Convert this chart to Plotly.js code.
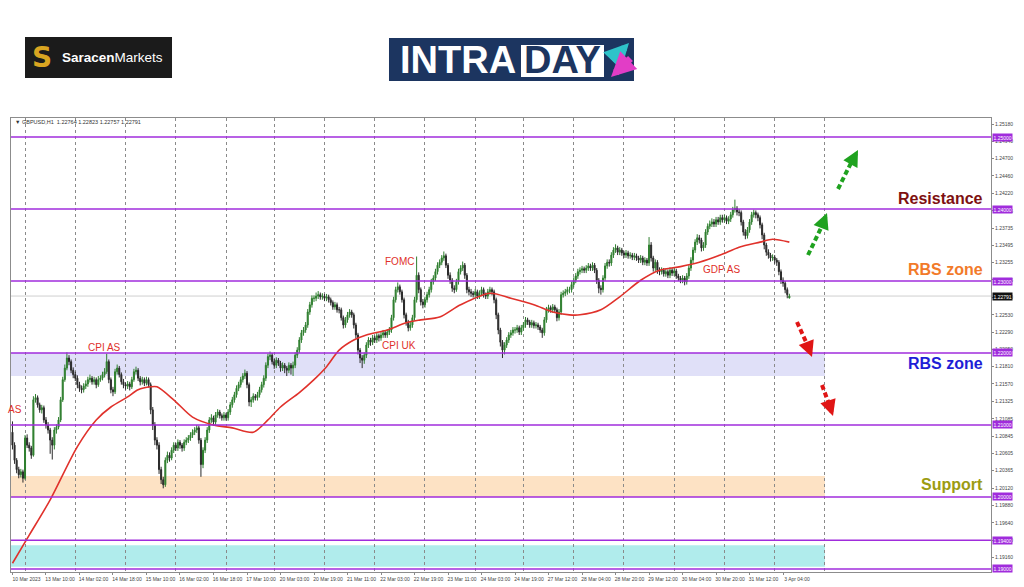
<!DOCTYPE html>
<html><head><meta charset="utf-8">
<script src="https://cdn.plot.ly/plotly-3.0.1.min.js"></script>
<style>html,body{margin:0;padding:0;background:#fff;} #chart{width:1024px;height:587px;}</style>
</head><body><div id="chart"></div>
<script>
// ---- GBPUSD H1 candles ----
const barOpen = [
1.2090,1.2072,1.2051,1.2038,1.2031,1.2035,1.2026,1.2082,1.2072,1.2068,
1.2058,1.2135,1.2138,1.2128,1.2121,1.2124,1.2107,1.2100,1.2093,1.2079,
1.2072,1.2093,1.2097,1.2107,1.2135,1.2163,1.2179,1.2193,1.2188,1.2176,
1.2170,1.2165,1.2156,1.2151,1.2149,1.2154,1.2157,1.2163,1.2165,1.2160,
1.2163,1.2156,1.2163,1.2165,1.2170,1.2174,1.2188,1.2163,1.2149,1.2146,
1.2174,1.2179,1.2170,1.2160,1.2156,1.2154,1.2157,1.2153,1.2163,1.2174,
1.2176,1.2165,1.2160,1.2163,1.2158,1.2163,1.2156,1.2121,1.2100,1.2079,
1.2072,1.2038,1.2024,1.2017,1.2051,1.2058,1.2054,1.2065,1.2072,1.2068,
1.2076,1.2072,1.2068,1.2076,1.2079,1.2082,1.2086,1.2090,1.2093,1.2096,
1.2079,1.2045,1.2065,1.2079,1.2093,1.2107,1.2110,1.2104,1.2114,1.2118,
1.2113,1.2110,1.2114,1.2110,1.2118,1.2128,1.2135,1.2142,1.2151,1.2156,
1.2163,1.2168,1.2172,1.2156,1.2132,1.2135,1.2140,1.2138,1.2142,1.2149,
1.2156,1.2165,1.2183,1.2195,1.2197,1.2188,1.2183,1.2190,1.2186,1.2179,
1.2183,1.2179,1.2176,1.2183,1.2179,1.2183,1.2197,1.2204,1.2218,1.2228,
1.2232,1.2239,1.2257,1.2267,1.2276,1.2276,1.2279,1.2281,1.2278,1.2279,
1.2276,1.2278,1.2274,1.2270,1.2264,1.2267,1.2260,1.2260,1.2249,1.2239,
1.2246,1.2253,1.2257,1.2253,1.2239,1.2225,1.2204,1.2193,1.2190,1.2197,
1.2211,1.2218,1.2215,1.2221,1.2218,1.2224,1.2221,1.2225,1.2228,1.2225,
1.2229,1.2232,1.2249,1.2274,1.2288,1.2292,1.2285,1.2274,1.2253,1.2243,
1.2235,1.2239,1.2249,1.2274,1.2308,1.2288,1.2271,1.2267,1.2274,1.2281,
1.2288,1.2299,1.2304,1.2313,1.2322,1.2326,1.2332,1.2335,1.2322,1.2308,
1.2301,1.2290,1.2288,1.2299,1.2313,1.2318,1.2322,1.2308,1.2288,1.2285,
1.2283,1.2281,1.2285,1.2279,1.2283,1.2288,1.2281,1.2279,1.2285,1.2288,
1.2285,1.2274,1.2253,1.2232,1.2215,1.2204,1.2211,1.2218,1.2225,1.2228,
1.2232,1.2232,1.2235,1.2229,1.2235,1.2239,1.2246,1.2243,1.2239,1.2242,
1.2238,1.2239,1.2236,1.2232,1.2228,1.2246,1.2260,1.2263,1.2260,1.2264,
1.2260,1.2249,1.2257,1.2281,1.2283,1.2285,1.2288,1.2288,1.2295,1.2301,
1.2307,1.2313,1.2315,1.2317,1.2315,1.2318,1.2321,1.2318,1.2322,1.2315,
1.2301,1.2290,1.2288,1.2304,1.2321,1.2326,1.2325,1.2336,1.2343,1.2346,
1.2340,1.2343,1.2339,1.2336,1.2339,1.2335,1.2336,1.2333,1.2335,1.2332,
1.2329,1.2332,1.2326,1.2329,1.2325,1.2350,1.2332,1.2318,1.2326,1.2315,
1.2313,1.2315,1.2310,1.2313,1.2308,1.2315,1.2311,1.2314,1.2307,1.2304,
1.2301,1.2304,1.2299,1.2307,1.2318,1.2329,1.2343,1.2354,1.2360,1.2357,
1.2346,1.2350,1.2368,1.2376,1.2379,1.2382,1.2379,1.2385,1.2382,1.2388,
1.2385,1.2388,1.2383,1.2386,1.2392,1.2399,1.2401,1.2396,1.2395,1.2382,
1.2368,1.2363,1.2371,1.2382,1.2392,1.2395,1.2392,1.2388,1.2378,1.2364,
1.2350,1.2340,1.2336,1.2332,1.2333,1.2329,1.2326,1.2313,1.2301,1.2297,
1.2288,1.22764];
const barHigh = [
1.2105,1.2076,1.2054,1.2042,1.2039,1.2038,1.2086,1.2087,1.2076,1.2071,
1.2140,1.2143,1.2141,1.2131,1.2128,1.2127,1.2111,1.2104,1.2096,1.2083,
1.2097,1.2101,1.2111,1.2139,1.2167,1.2184,1.2201,1.2197,1.2191,1.2180,
1.2174,1.2169,1.2160,1.2155,1.2158,1.2162,1.2167,1.2170,1.2168,1.2167,
1.2166,1.2168,1.2169,1.2174,1.2179,1.2199,1.2191,1.2166,1.2153,1.2178,
1.2184,1.2182,1.2173,1.2164,1.2159,1.2161,1.2160,1.2167,1.2178,1.2181,
1.2179,1.2168,1.2167,1.2166,1.2167,1.2166,1.2159,1.2125,1.2104,1.2083,
1.2076,1.2042,1.2028,1.2055,1.2063,1.2062,1.2069,1.2076,1.2075,1.2080,
1.2079,1.2075,1.2080,1.2083,1.2086,1.2090,1.2094,1.2097,1.2100,1.2099,
1.2082,1.2069,1.2083,1.2097,1.2111,1.2115,1.2113,1.2118,1.2122,1.2121,
1.2116,1.2118,1.2117,1.2122,1.2132,1.2139,1.2146,1.2155,1.2160,1.2167,
1.2172,1.2177,1.2175,1.2159,1.2139,1.2144,1.2143,1.2146,1.2153,1.2160,
1.2169,1.2187,1.2199,1.2202,1.2200,1.2192,1.2194,1.2193,1.2189,1.2187,
1.2186,1.2182,1.2187,1.2186,1.2188,1.2201,1.2208,1.2222,1.2232,1.2236,
1.2243,1.2261,1.2271,1.2280,1.2280,1.2284,1.2286,1.2284,1.2283,1.2282,
1.2282,1.2281,1.2277,1.2273,1.2271,1.2270,1.2264,1.2263,1.2252,1.2250,
1.2257,1.2261,1.2260,1.2256,1.2242,1.2228,1.2207,1.2197,1.2201,1.2215,
1.2222,1.2221,1.2225,1.2224,1.2228,1.2227,1.2229,1.2232,1.2231,1.2233,
1.2236,1.2253,1.2278,1.2292,1.2298,1.2295,1.2288,1.2277,1.2256,1.2246,
1.2243,1.2253,1.2278,1.2334,1.2312,1.2291,1.2275,1.2278,1.2285,1.2292,
1.2303,1.2308,1.2317,1.2326,1.2330,1.2336,1.2341,1.2338,1.2325,1.2312,
1.2304,1.2294,1.2303,1.2317,1.2322,1.2327,1.2325,1.2311,1.2292,1.2289,
1.2286,1.2289,1.2288,1.2287,1.2292,1.2291,1.2284,1.2289,1.2292,1.2291,
1.2288,1.2277,1.2256,1.2235,1.2218,1.2215,1.2222,1.2229,1.2232,1.2236,
1.2236,1.2239,1.2238,1.2239,1.2243,1.2250,1.2249,1.2246,1.2246,1.2245,
1.2243,1.2242,1.2239,1.2235,1.2250,1.2264,1.2267,1.2266,1.2268,1.2267,
1.2263,1.2261,1.2285,1.2287,1.2289,1.2292,1.2292,1.2299,1.2305,1.2311,
1.2317,1.2319,1.2321,1.2320,1.2322,1.2325,1.2324,1.2326,1.2325,1.2318,
1.2304,1.2294,1.2308,1.2325,1.2330,1.2330,1.2340,1.2347,1.2351,1.2349,
1.2347,1.2346,1.2342,1.2343,1.2342,1.2340,1.2339,1.2339,1.2338,1.2335,
1.2336,1.2335,1.2333,1.2332,1.2361,1.2354,1.2335,1.2330,1.2329,1.2319,
1.2319,1.2318,1.2317,1.2316,1.2319,1.2318,1.2318,1.2317,1.2310,1.2307,
1.2308,1.2307,1.2311,1.2322,1.2333,1.2347,1.2358,1.2365,1.2364,1.2360,
1.2354,1.2372,1.2380,1.2384,1.2387,1.2386,1.2389,1.2389,1.2392,1.2392,
1.2392,1.2391,1.2390,1.2396,1.2403,1.2413,1.2404,1.2400,1.2398,1.2385,
1.2372,1.2375,1.2386,1.2396,1.2399,1.2398,1.2395,1.2391,1.2381,1.2367,
1.2353,1.2344,1.2339,1.2337,1.2336,1.2332,1.2329,1.2316,1.2305,1.2300,
1.2291,1.22823];
const barLow = [
1.2066,1.2046,1.2033,1.2026,1.2027,1.2020,1.2024,1.2068,1.2063,1.2053,
1.2056,1.2131,1.2124,1.2117,1.2116,1.2103,1.2095,1.2088,1.2060,1.2052,
1.2066,1.2088,1.2094,1.2104,1.2132,1.2160,1.2176,1.2183,1.2172,1.2165,
1.2161,1.2151,1.2146,1.2144,1.2145,1.2150,1.2153,1.2159,1.2156,1.2156,
1.2151,1.2153,1.2160,1.2162,1.2166,1.2171,1.2158,1.2144,1.2140,1.2143,
1.2170,1.2166,1.2156,1.2151,1.2149,1.2150,1.2148,1.2150,1.2160,1.2170,
1.2161,1.2155,1.2156,1.2154,1.2155,1.2152,1.2115,1.2093,1.2072,1.2066,
1.2032,1.2018,1.2012,1.2014,1.2047,1.2049,1.2051,1.2061,1.2064,1.2064,
1.2067,1.2063,1.2064,1.2072,1.2075,1.2078,1.2082,1.2086,1.2089,1.2074,
1.2028,1.2040,1.2061,1.2075,1.2089,1.2103,1.2099,1.2100,1.2110,1.2109,
1.2106,1.2106,1.2106,1.2106,1.2114,1.2124,1.2131,1.2138,1.2147,1.2152,
1.2159,1.2164,1.2151,1.2126,1.2125,1.2131,1.2134,1.2134,1.2138,1.2145,
1.2152,1.2161,1.2179,1.2190,1.2184,1.2178,1.2179,1.2182,1.2174,1.2175,
1.2172,1.2168,1.2172,1.2170,1.2168,1.2179,1.2193,1.2200,1.2214,1.2224,
1.2228,1.2235,1.2253,1.2263,1.2271,1.2272,1.2275,1.2274,1.2274,1.2272,
1.2272,1.2270,1.2266,1.2260,1.2260,1.2256,1.2255,1.2245,1.2234,1.2235,
1.2242,1.2249,1.2249,1.2234,1.2220,1.2198,1.2186,1.2179,1.2185,1.2193,
1.2207,1.2210,1.2211,1.2214,1.2214,1.2216,1.2217,1.2221,1.2221,1.2221,
1.2225,1.2228,1.2245,1.2270,1.2284,1.2281,1.2270,1.2248,1.2238,1.2230,
1.2231,1.2235,1.2245,1.2270,1.2283,1.2266,1.2262,1.2263,1.2270,1.2277,
1.2284,1.2295,1.2300,1.2309,1.2318,1.2322,1.2328,1.2318,1.2303,1.2296,
1.2285,1.2283,1.2285,1.2295,1.2309,1.2314,1.2303,1.2283,1.2280,1.2278,
1.2277,1.2277,1.2275,1.2275,1.2279,1.2277,1.2275,1.2275,1.2281,1.2280,
1.2269,1.2247,1.2226,1.2209,1.2193,1.2198,1.2207,1.2214,1.2221,1.2224,
1.2227,1.2228,1.2225,1.2225,1.2231,1.2235,1.2239,1.2235,1.2235,1.2234,
1.2234,1.2232,1.2228,1.2221,1.2224,1.2242,1.2256,1.2256,1.2256,1.2256,
1.2244,1.2245,1.2253,1.2277,1.2279,1.2281,1.2283,1.2284,1.2291,1.2297,
1.2303,1.2309,1.2311,1.2311,1.2311,1.2314,1.2314,1.2314,1.2311,1.2296,
1.2283,1.2281,1.2284,1.2300,1.2317,1.2320,1.2321,1.2332,1.2339,1.2336,
1.2336,1.2335,1.2332,1.2332,1.2331,1.2331,1.2329,1.2329,1.2328,1.2325,
1.2325,1.2322,1.2322,1.2321,1.2321,1.2327,1.2313,1.2314,1.2310,1.2308,
1.2309,1.2306,1.2306,1.2304,1.2304,1.2307,1.2307,1.2303,1.2300,1.2297,
1.2297,1.2294,1.2295,1.2303,1.2314,1.2325,1.2339,1.2350,1.2352,1.2341,
1.2342,1.2346,1.2364,1.2372,1.2375,1.2375,1.2375,1.2378,1.2378,1.2381,
1.2381,1.2379,1.2379,1.2382,1.2388,1.2395,1.2391,1.2390,1.2377,1.2363,
1.2358,1.2359,1.2367,1.2378,1.2388,1.2387,1.2383,1.2373,1.2358,1.2344,
1.2335,1.2331,1.2327,1.2328,1.2324,1.2321,1.2308,1.2296,1.2292,1.2283,
1.2276,1.22757];
const barClose = [
1.2072,1.2051,1.2038,1.2031,1.2035,1.2026,1.2082,1.2072,1.2068,1.2058,
1.2135,1.2138,1.2128,1.2121,1.2124,1.2107,1.2100,1.2093,1.2079,1.2072,
1.2093,1.2097,1.2107,1.2135,1.2163,1.2179,1.2193,1.2188,1.2176,1.2170,
1.2165,1.2156,1.2151,1.2149,1.2154,1.2157,1.2163,1.2165,1.2160,1.2163,
1.2156,1.2163,1.2165,1.2170,1.2174,1.2188,1.2163,1.2149,1.2146,1.2174,
1.2179,1.2170,1.2160,1.2156,1.2154,1.2157,1.2153,1.2163,1.2174,1.2176,
1.2165,1.2160,1.2163,1.2158,1.2163,1.2156,1.2121,1.2100,1.2079,1.2072,
1.2038,1.2024,1.2017,1.2051,1.2058,1.2054,1.2065,1.2072,1.2068,1.2076,
1.2072,1.2068,1.2076,1.2079,1.2082,1.2086,1.2090,1.2093,1.2096,1.2079,
1.2045,1.2065,1.2079,1.2093,1.2107,1.2110,1.2104,1.2114,1.2118,1.2113,
1.2110,1.2114,1.2110,1.2118,1.2128,1.2135,1.2142,1.2151,1.2156,1.2163,
1.2168,1.2172,1.2156,1.2132,1.2135,1.2140,1.2138,1.2142,1.2149,1.2156,
1.2165,1.2183,1.2195,1.2197,1.2188,1.2183,1.2190,1.2186,1.2179,1.2183,
1.2179,1.2176,1.2183,1.2179,1.2183,1.2197,1.2204,1.2218,1.2228,1.2232,
1.2239,1.2257,1.2267,1.2276,1.2276,1.2279,1.2281,1.2278,1.2279,1.2276,
1.2278,1.2274,1.2270,1.2264,1.2267,1.2260,1.2260,1.2249,1.2239,1.2246,
1.2253,1.2257,1.2253,1.2239,1.2225,1.2204,1.2193,1.2190,1.2197,1.2211,
1.2218,1.2215,1.2221,1.2218,1.2224,1.2221,1.2225,1.2228,1.2225,1.2229,
1.2232,1.2249,1.2274,1.2288,1.2292,1.2285,1.2274,1.2253,1.2243,1.2235,
1.2239,1.2249,1.2274,1.2308,1.2288,1.2271,1.2267,1.2274,1.2281,1.2288,
1.2299,1.2304,1.2313,1.2322,1.2326,1.2332,1.2335,1.2322,1.2308,1.2301,
1.2290,1.2288,1.2299,1.2313,1.2318,1.2322,1.2308,1.2288,1.2285,1.2283,
1.2281,1.2285,1.2279,1.2283,1.2288,1.2281,1.2279,1.2285,1.2288,1.2285,
1.2274,1.2253,1.2232,1.2215,1.2204,1.2211,1.2218,1.2225,1.2228,1.2232,
1.2232,1.2235,1.2229,1.2235,1.2239,1.2246,1.2243,1.2239,1.2242,1.2238,
1.2239,1.2236,1.2232,1.2228,1.2246,1.2260,1.2263,1.2260,1.2264,1.2260,
1.2249,1.2257,1.2281,1.2283,1.2285,1.2288,1.2288,1.2295,1.2301,1.2307,
1.2313,1.2315,1.2317,1.2315,1.2318,1.2321,1.2318,1.2322,1.2315,1.2301,
1.2290,1.2288,1.2304,1.2321,1.2326,1.2325,1.2336,1.2343,1.2346,1.2340,
1.2343,1.2339,1.2336,1.2339,1.2335,1.2336,1.2333,1.2335,1.2332,1.2329,
1.2332,1.2326,1.2329,1.2325,1.2350,1.2332,1.2318,1.2326,1.2315,1.2313,
1.2315,1.2310,1.2313,1.2308,1.2315,1.2311,1.2314,1.2307,1.2304,1.2301,
1.2304,1.2299,1.2307,1.2318,1.2329,1.2343,1.2354,1.2360,1.2357,1.2346,
1.2350,1.2368,1.2376,1.2379,1.2382,1.2379,1.2385,1.2382,1.2388,1.2385,
1.2388,1.2383,1.2386,1.2392,1.2399,1.2401,1.2396,1.2395,1.2382,1.2368,
1.2363,1.2371,1.2382,1.2392,1.2395,1.2392,1.2388,1.2378,1.2364,1.2350,
1.2340,1.2336,1.2332,1.2333,1.2329,1.2326,1.2313,1.2301,1.2297,1.2288,
1.2281,1.22791];

// Moving average (red line)
const maBar = [0,8,18,31,40,47,55,60,66,69,77,86,96,105,115,122,128,137,144,150,
  156,163,169,179,188,195,204,214,228,238,249,258,266,271,281,290,300,309,319,328,
  338,347,357,363,371];
const maValue = [1.1908,1.1947,1.1996,1.2070,1.2107,1.2125,1.2139,1.2149,1.2153,1.2153,
  1.2135,1.2111,1.2100,1.2096,1.2090,1.2107,1.2125,1.2145,1.2163,1.2181,
  1.2204,1.2218,1.2225,1.2232,1.2242,1.2246,1.2250,1.2267,1.2283,1.2276,
  1.2267,1.2257,1.2253,1.2253,1.2260,1.2278,1.2301,1.2315,1.2320,1.2326,
  1.2336,1.2347,1.2354,1.2358,1.2354];

// Time-axis labels (every 16 bars) and day separators
const timeLabels = ["10 Mar 2023","13 Mar 10:00","14 Mar 02:00","14 Mar 18:00","15 Mar 10:00",
  "16 Mar 02:00","16 Mar 18:00","17 Mar 10:00","20 Mar 03:00","20 Mar 19:00","21 Mar 11:00",
  "22 Mar 03:00","22 Mar 19:00","23 Mar 11:00","24 Mar 03:00","24 Mar 19:00","27 Mar 12:00",
  "28 Mar 04:00","28 Mar 20:00","29 Mar 12:00","30 Mar 04:00","30 Mar 20:00","31 Mar 12:00",
  "3 Apr 04:00"];
const dayStartBars = [6,30,54,78,102,125,149,173,197,221,244,268,292,316,340,364,388];

// Price scale ticks and key levels
const priceTicks = [1.25180,1.24940,1.24700,1.24460,1.24220,1.23975,1.23735,1.23495,1.23255,
  1.23015,1.22770,1.22530,1.22290,1.22050,1.21810,1.21570,1.21325,1.21085,1.20845,1.20605,
  1.20365,1.20120,1.19880,1.19640,1.19400,1.19160,1.18915];
const keyLevels = [1.25000,1.24000,1.23000,1.22000,1.21000,1.20000,1.19400,1.19000];
const lastPrice = 1.22791;
const zoneBottoms = [1.2168, 1.2000, 1.1903];
const zoneTops    = [1.2200, 1.2029, 1.1933];
const zoneColors  = ['#e0e0f8', '#fde2c4', '#b0ecec'];

const nBars = barClose.length;
const barIndex = Array.from({length: nBars}, (_, i) => i);
const labelBars = timeLabels.map((_, i) => i * 16);
const zoneEndBar = 388;

const PURPLE = '#a02cdc';
const FONT = 'Liberation Sans, Arial, sans-serif';

const traces = [
  {
    type: 'candlestick', x: barIndex, open: barOpen, high: barHigh, low: barLow, close: barClose,
    increasing: {line: {color: '#2f7f2f', width: 1}, fillcolor: '#2f7f2f'},
    decreasing: {line: {color: '#2a2a2a', width: 1}, fillcolor: '#2a2a2a'},
    whiskerwidth: 0, hoverinfo: 'skip', showlegend: false
  },
  {
    type: 'scatter', mode: 'lines', x: maBar, y: maValue,
    line: {color: '#e0312b', width: 1.6, shape: 'spline', smoothing: 0.8},
    hoverinfo: 'skip', showlegend: false
  }
];

const shapes = [];
zoneBottoms.forEach((b, i) => shapes.push({
  type: 'rect', xref: 'x', yref: 'y', x0: -0.7, x1: zoneEndBar, y0: b, y1: zoneTops[i],
  fillcolor: zoneColors[i], line: {width: 0}, layer: 'below'
}));
shapes.push({type: 'line', xref: 'paper', yref: 'y', x0: 0, x1: 1, y0: lastPrice, y1: lastPrice,
  line: {color: '#cfcfcf', width: 1}, layer: 'below'});
keyLevels.forEach(v => shapes.push({
  type: 'line', xref: 'paper', yref: 'y', x0: 0, x1: 1, y0: v, y1: v,
  line: {color: PURPLE, width: 1.4}, layer: 'above'
}));

// dashed forecast arrows (paper coordinates)
const GREEN = '#1fa21f', RED = '#e01515';
const arrowBodies = [
  {x0: 0.81327, y0: 0.69824, x1: 0.82653, y1: 0.75771, c: GREEN},
  {x0: 0.84388, y0: 0.84361, x1: 0.85714, y1: 0.90088, c: GREEN},
  {x0: 0.80204, y0: 0.55066, x1: 0.81224, y1: 0.50220, c: RED},
  {x0: 0.82755, y0: 0.41189, x1: 0.83469, y1: 0.37004, c: RED}
];
arrowBodies.forEach(a => shapes.push({
  type: 'line', xref: 'paper', yref: 'paper', x0: a.x0, y0: a.y0, x1: a.x1, y1: a.y1,
  line: {color: a.c, width: 4, dash: '5px,3px'}, layer: 'above'
}));

// logos (paper coordinates)
shapes.push({type: 'rect', xref: 'paper', yref: 'paper', x0: 0.01429, x1: 0.16429, y0: 1.08811, y1: 1.17841,
  fillcolor: '#1b1b1b', line: {width: 0}});
shapes.push({type: 'rect', xref: 'paper', yref: 'paper', x0: 0.38571, x1: 0.63571, y0: 1.08150, y1: 1.17621,
  fillcolor: '#1c3560', line: {width: 0}});
shapes.push({type: 'rect', xref: 'paper', yref: 'paper', x0: 0.52041, x1: 0.60510, y0: 1.09031, y1: 1.16079,
  fillcolor: '#ffffff', line: {width: 0}});

const annotations = [];
// price tags on the right scale
keyLevels.forEach(v => annotations.push({
  xref: 'paper', x: 1, xanchor: 'left', xshift: 1, yref: 'y', y: v, yanchor: 'middle',
  text: v.toFixed(5), showarrow: false, bgcolor: PURPLE, borderpad: 0.5,
  font: {family: FONT, size: 5, color: '#ffffff'}
}));
annotations.push({xref: 'paper', x: 1, xanchor: 'left', xshift: 1, yref: 'y', y: lastPrice, yanchor: 'middle',
  text: lastPrice.toFixed(5), showarrow: false, bgcolor: '#111111', borderpad: 0.5,
  font: {family: FONT, size: 5, color: '#ffffff'}});
// header
annotations.push({xref: 'paper', x: 0, xanchor: 'left', xshift: 2, yref: 'paper', y: 0.9912, yanchor: 'middle',
  text: '\u25BC GBPUSD,H1  1.22764 1.22823 1.22757 1.22791', showarrow: false,
  font: {family: FONT, size: 5.5, color: '#333333'}});
// event labels
const ev = [['CPI AS', 0.09490, 0.49559], ['AS', 0.00408, 0.35903], ['FOMC', 0.39592, 0.68502],
  ['CPI UK', 0.39592, 0.50000], ['GDP AS', 0.72449, 0.66520]];
ev.forEach(e => annotations.push({xref: 'paper', yref: 'paper', x: e[1], y: e[2], xanchor: 'center',
  yanchor: 'middle', text: e[0], showarrow: false, font: {family: FONT, size: 10, color: '#e0302a'}}));
// zone labels
const zl = [['Resistance', '#7e1010', 0.82159], ['RBS zone', '#f27a2a', 0.66520],
  ['RBS zone', '#1e1ed6', 0.45815], ['Support', '#9c9c12', 0.19163]];
zl.forEach(z => annotations.push({xref: 'paper', yref: 'paper', x: 0.99388, xanchor: 'right', y: z[2],
  yanchor: 'middle', text: '<b>' + z[0] + '</b>', showarrow: false, font: {family: FONT, size: 16, color: z[1]}}));
// arrow heads
const heads = [[0.83265, 0.79075, -6, 15, GREEN], [0.86429, 0.92952, -7, 13, GREEN],
  [0.81735, 0.47357, -5, -13, RED], [0.83878, 0.34361, -4, -12, RED]];
heads.forEach(h => annotations.push({xref: 'paper', yref: 'paper', x: h[0], y: h[1], ax: h[2], ay: h[3],
  text: '', showarrow: true, arrowhead: 2, arrowsize: 0.8, arrowwidth: 4, arrowcolor: h[4]}));
// logos text
annotations.push({xref: 'paper', yref: 'paper', x: 0.03163, y: 1.13436, xanchor: 'center', yanchor: 'middle',
  text: '<b>S</b>', showarrow: false, font: {family: 'DejaVu Sans', size: 28, color: '#d9a521'}});
annotations.push({xref: 'paper', yref: 'paper', x: 0.04998, xanchor: 'left', y: 1.13436, yanchor: 'middle',
  text: '<b>Saracen</b>Markets', showarrow: false, font: {family: FONT, size: 13.5, color: '#ffffff'}});
annotations.push({xref: 'paper', yref: 'paper', x: 0.45612, y: 1.12775, xanchor: 'center', yanchor: 'middle',
  text: '<b>INTRA</b>', showarrow: false, font: {family: FONT, size: 38, color: '#ffffff'}});
annotations.push({xref: 'paper', yref: 'paper', x: 0.56276, y: 1.12775, xanchor: 'center', yanchor: 'middle',
  text: '<b>DAY</b>', showarrow: false, font: {family: FONT, size: 38, color: '#1c3560'}});
annotations.push({xref: 'paper', yref: 'paper', x: 0.63061, y: 1.16520, ax: -18, ay: 19, text: '',
  showarrow: true, arrowhead: 2, arrowsize: 0.7, arrowwidth: 7, arrowcolor: '#2ec3c9'});
annotations.push({xref: 'paper', yref: 'paper', x: 0.61224, y: 1.09031, ax: 21, ay: -20, text: '',
  showarrow: true, arrowhead: 2, arrowsize: 0.7, arrowwidth: 7, arrowcolor: '#e23dc6'});

const layout = {
  width: 1024, height: 587,
  margin: {l: 11, r: 33, t: 118, b: 15, pad: 0},
  paper_bgcolor: '#ffffff', plot_bgcolor: '#ffffff',
  showlegend: false, hovermode: false, dragmode: false,
  xaxis: {
    type: 'linear', range: [-0.7, 467.3], rangeslider: {visible: false},
    tickmode: 'array', tickvals: labelBars, ticktext: timeLabels, tickangle: 0, ticklabelshift: 14,
    tickfont: {family: FONT, size: 5, color: '#444444'}, ticks: 'outside', ticklen: 2, tickcolor: '#888888',
    showgrid: false, zeroline: false, showline: true, mirror: true, linecolor: '#8c8c8c', linewidth: 1,
    minor: {tickmode: 'array', tickvals: dayStartBars, showgrid: true, gridcolor: '#8a8a8a',
      griddash: 'dot', gridwidth: 1, ticks: ''},
    fixedrange: true
  },
  yaxis: {
    side: 'right', range: [1.18958, 1.25264], tickmode: 'array', tickvals: priceTicks,
    ticktext: priceTicks.map(v => v.toFixed(5)),
    tickfont: {family: FONT, size: 5, color: '#444444'}, ticks: 'outside', ticklen: 2, tickcolor: '#888888',
    showgrid: false, zeroline: false, showline: true, mirror: true, linecolor: '#8c8c8c', linewidth: 1,
    fixedrange: true
  },
  shapes: shapes,
  annotations: annotations
};

Plotly.newPlot('chart', traces, layout, {displayModeBar: false, staticPlot: true});
</script></body></html>
